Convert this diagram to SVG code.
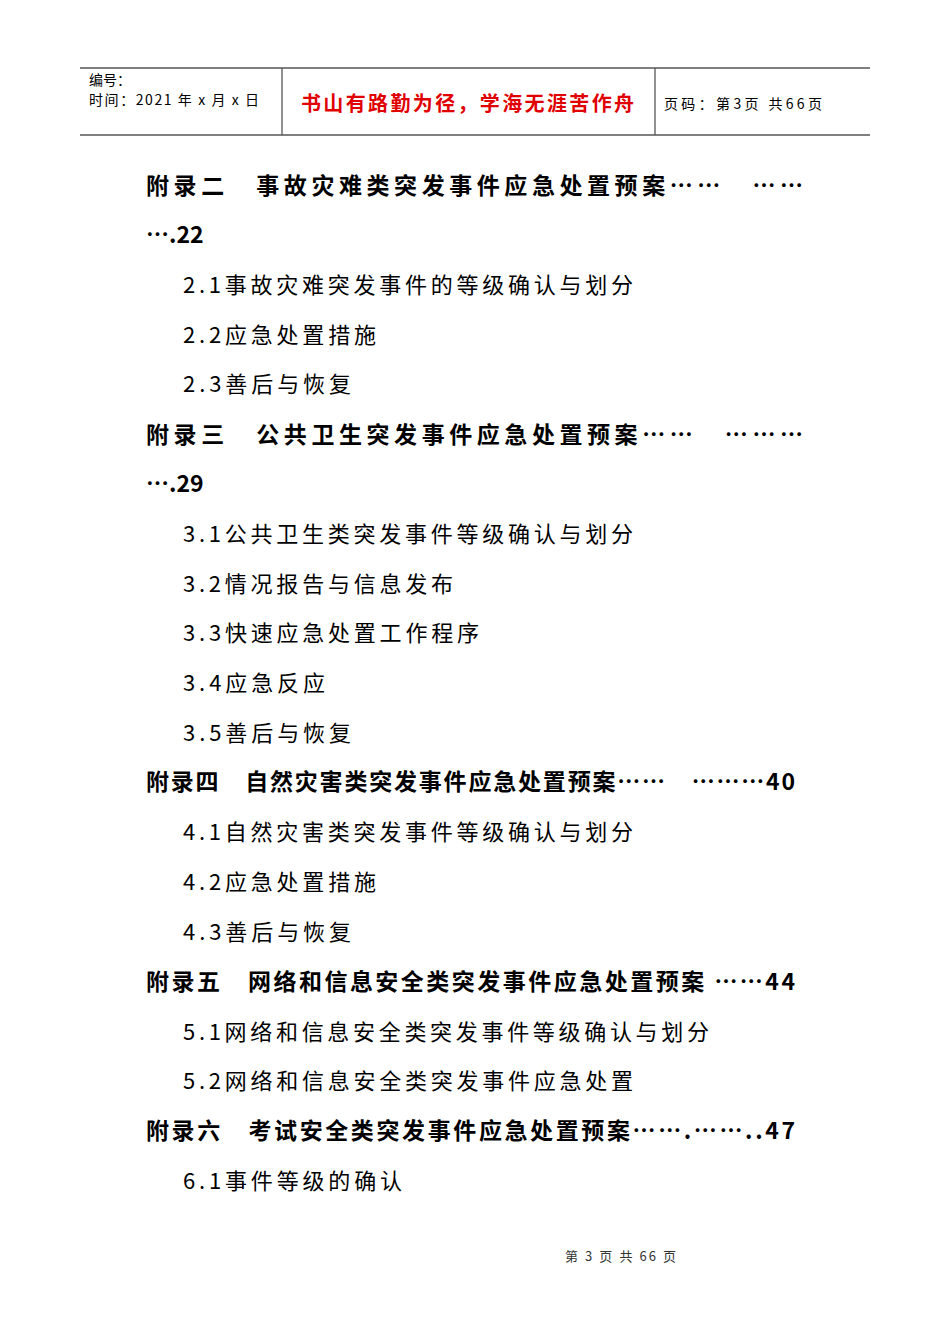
<svg xmlns="http://www.w3.org/2000/svg" width="950" height="1344" viewBox="0 0 950 1344">
<style>
.h{font-family:"Noto Sans CJK SC","Noto Sans",sans-serif;font-size:23px;font-weight:bold;fill:#000}
.s{font-family:"Noto Sans CJK SC","Noto Sans",sans-serif;font-size:22px;fill:#000}
.t{font-family:"Noto Sans CJK SC",sans-serif;font-size:14px;fill:#000}
</style>
<rect width="950" height="1344" fill="#fff"/>
<g id="header" stroke="#555" stroke-width="1.3">
<line x1="80" y1="68" x2="870" y2="68"/>
<line x1="80" y1="135" x2="870" y2="135"/>
<line x1="282" y1="68" x2="282" y2="135"/>
<line x1="655" y1="68" x2="655" y2="135"/>
</g>
<text class="t" x="89" y="85">编号：</text>
<text class="t" x="89" y="105" textLength="170">时间：2021 年 x 月 x 日</text>
<text x="301" y="111" font-family="Noto Sans CJK SC,sans-serif" font-size="20" font-weight="bold" fill="#e00000" textLength="333">书山有路勤为径，学海无涯苦作舟</text>
<text class="t" x="664" y="109" textLength="158">页码：第3页 共66页</text>
<text class="h" x="146" y="194" textLength="657">附录二　事故灾难类突发事件应急处置预案……　……</text>
<text class="h" x="146" y="243">….22</text>
<text class="s" x="183" y="293" textLength="450">2.1事故灾难突发事件的等级确认与划分</text>
<text class="s" x="183" y="343" textLength="193">2.2应急处置措施</text>
<text class="s" x="183" y="392" textLength="168">2.3善后与恢复</text>
<text class="h" x="146" y="443" textLength="657">附录三　公共卫生突发事件应急处置预案……　………</text>
<text class="h" x="146" y="492">….29</text>
<text class="s" x="183" y="542" textLength="450">3.1公共卫生类突发事件等级确认与划分</text>
<text class="s" x="183" y="592" textLength="270">3.2情况报告与信息发布</text>
<text class="s" x="183" y="641" textLength="296">3.3快速应急处置工作程序</text>
<text class="s" x="183" y="691" textLength="142">3.4应急反应</text>
<text class="s" x="183" y="741" textLength="168">3.5善后与恢复</text>
<text class="h" x="146" y="790" textLength="649">附录四　自然灾害类突发事件应急处置预案……　………40</text>
<text class="s" x="183" y="840" textLength="450">4.1自然灾害类突发事件等级确认与划分</text>
<text class="s" x="183" y="890" textLength="193">4.2应急处置措施</text>
<text class="s" x="183" y="940" textLength="168">4.3善后与恢复</text>
<text class="h" x="146" y="990" textLength="649">附录五　网络和信息安全类突发事件应急处置预案 ……44</text>
<text class="s" x="183" y="1040" textLength="526">5.1网络和信息安全类突发事件等级确认与划分</text>
<text class="s" x="183" y="1089" textLength="450">5.2网络和信息安全类突发事件应急处置</text>
<text class="h" x="146" y="1139" textLength="649">附录六　考试安全类突发事件应急处置预案…….……..47</text>
<text class="s" x="183" y="1189" textLength="219">6.1事件等级的确认</text>
<text x="565" y="1261" textLength="111" font-family="Noto Sans CJK SC,sans-serif" font-size="13" fill="#333">第 3 页 共 66 页</text>
</svg>
